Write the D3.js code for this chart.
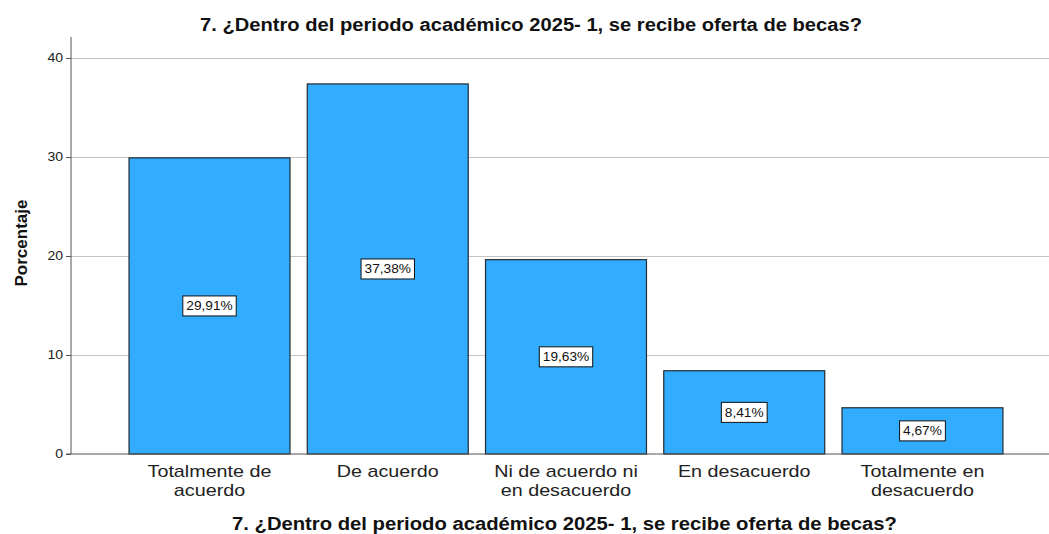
<!DOCTYPE html>
<html><head><meta charset="utf-8">
<script src="https://cdn.jsdelivr.net/npm/d3@7"></script>
<style>body{margin:0;background:#fff}svg{display:block}</style>
</head><body>
<svg id="c" width="1049" height="534"></svg>
<script>
const categories = [["Totalmente de","acuerdo"],["De acuerdo"],["Ni de acuerdo ni","en desacuerdo"],["En desacuerdo"],["Totalmente en","desacuerdo"]];
const values = [29.91, 37.38, 19.63, 8.41, 4.67];
const labels = ["29,91%", "37,38%", "19,63%", "8,41%", "4,67%"];
const yTicks = [0, 10, 20, 30, 40];
const title = "7. ¿Dentro del periodo académico 2025- 1, se recibe oferta de becas?";
const yTitle = "Porcentaje";

const svg = d3.select("#c");
const font = "Arial, 'Liberation Sans', sans-serif";
const STRETCH = 1.17;
function stretch(sel, f) {
  sel.each(function () {
    const L = this.getComputedTextLength();
    d3.select(this).attr("textLength", L * f).attr("lengthAdjust", "spacingAndGlyphs");
  });
}
const y = d3.scaleLinear().domain([0, 40]).range([454, 58]);
const x = d3.scaleBand().domain(d3.range(values.length)).range([120.4, 1011.6]).paddingInner(0.097).paddingOuter(0.0485);
const xLeft = 71, xRight = 1049;

// gridlines
svg.append("g").selectAll("line").data(yTicks.filter(d => d > 0)).join("line")
  .attr("x1", xLeft).attr("x2", xRight).attr("y1", d => y(d)).attr("y2", d => y(d))
  .attr("stroke", "#c4c4c4").attr("stroke-width", 1).attr("shape-rendering", "crispEdges");

// y axis
const yAxis = svg.append("g").attr("transform", `translate(${xLeft},0)`)
  .call(d3.axisLeft(y).tickValues(yTicks).tickSize(5).tickPadding(3));
yAxis.select(".domain").attr("d", `M-5,${y(0)}H0V37`).attr("stroke", "#555");
yAxis.selectAll(".tick line").attr("stroke", "#555");
yAxis.selectAll("text").attr("font-family", font).attr("font-size", 12).attr("fill", "#222");
stretch(yAxis.selectAll("text"), STRETCH);

// bars
svg.append("g").selectAll("rect").data(values).join("rect")
  .attr("x", (d, i) => x(i)).attr("width", x.bandwidth())
  .attr("y", d => y(d)).attr("height", d => y(0) - y(d))
  .attr("fill", "#31acff").attr("stroke", "#222a30").attr("stroke-width", 1.2);

// x baseline
svg.append("line").attr("x1", xLeft).attr("x2", xRight).attr("y1", y(0)).attr("y2", y(0))
  .attr("stroke", "#555").attr("stroke-width", 1.2);

// value labels
const lg = svg.append("g").selectAll("g").data(values).join("g")
  .attr("transform", (d, i) => `translate(${x(i) + x.bandwidth() / 2},${y(d / 2)})`);
lg.append("text").attr("text-anchor", "middle").attr("dy", "0.36em")
  .attr("font-family", font).attr("font-size", 12).attr("fill", "#111")
  .text((d, i) => labels[i]);
stretch(lg.selectAll("text"), 1.14);
lg.each(function () {
  const L = +d3.select(this).select("text").attr("textLength");
  d3.select(this).insert("rect", "text").attr("x", -L / 2 - 3.5).attr("y", -10).attr("width", L + 7).attr("height", 20)
    .attr("fill", "#fff").attr("stroke", "#111").attr("stroke-width", 1);
});

// category labels
const cg = svg.append("g").selectAll("text").data(categories).join("text")
  .attr("x", (d, i) => x(i) + x.bandwidth() / 2).attr("y", 477)
  .attr("text-anchor", "middle").attr("font-family", font).attr("font-size", 17).attr("fill", "#222");
cg.selectAll("tspan").data(d => d).join("tspan")
  .attr("x", function () { return d3.select(this.parentNode).attr("x"); })
  .attr("dy", (d, i) => i === 0 ? 0 : 18.5).text(d => d);
stretch(cg.selectAll("tspan"), 1.16);

// titles
const t1 = svg.append("text").attr("x", 531).attr("y", 31).attr("text-anchor", "middle")
  .attr("font-family", font).attr("font-weight", "bold").attr("font-size", 17.5).attr("fill", "#111").text(title)
  .attr("textLength", 662).attr("lengthAdjust", "spacingAndGlyphs");
const t2 = svg.append("text").attr("x", 564.5).attr("y", 530).attr("text-anchor", "middle")
  .attr("font-family", font).attr("font-weight", "bold").attr("font-size", 17.5).attr("fill", "#111").text(title)
  .attr("textLength", 665).attr("lengthAdjust", "spacingAndGlyphs");
svg.append("text").attr("transform", "translate(27,243) rotate(-90)").attr("text-anchor", "middle")
  .attr("font-family", font).attr("font-weight", "bold").attr("font-size", 17).attr("fill", "#111").text(yTitle);
</script>
</body></html>
